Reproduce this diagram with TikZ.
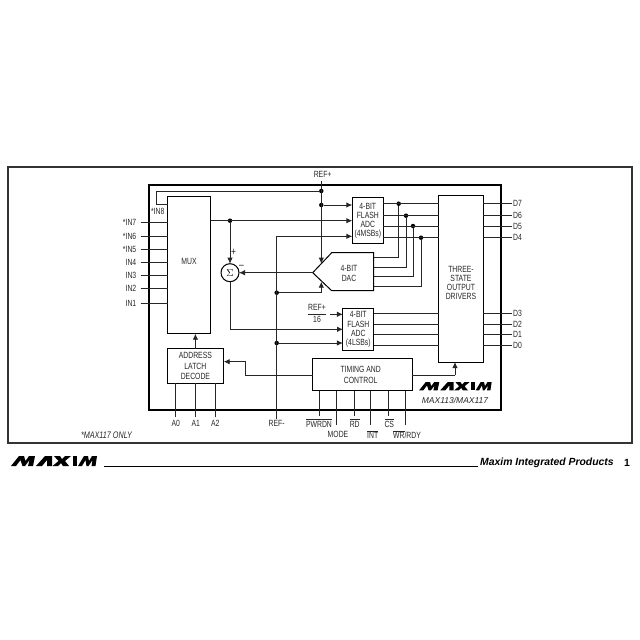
\documentclass[tikz,border=0pt]{standalone}
\usepackage{fontspec}
\setmainfont[FakeStretch=0.76]{Liberation Sans}
\newfontfamily\footfont{Liberation Sans}
\usetikzlibrary{arrows.meta}
\tikzset{
  lab/.style={font=\fontsize{9}{9.2}\selectfont,inner sep=1pt,align=center,text=black!85},
  box/.style={draw,line width=1pt,lab,outer sep=0pt},
  wire/.style={line width=0.9pt,draw=black!85},
  sig/.style={wire,-{Latex[length=6pt,width=5.5pt]}},
  dot/.style={circle,fill=black,inner sep=0pt,minimum size=4.5pt},
  maximlogo/.pic={
    \fill (0,10) -- (8,0) -- (13,0) -- (14.5,5) -- (18,0) -- (24,0) -- (22,10) -- (17,10) -- (18.5,4) -- (14,10) -- (11.5,10) -- (9.5,4) -- (5,10) -- cycle;
    \fill (25,10) -- (34,0) -- (41,0) -- (41,10) -- (36,10) -- (36,4) -- (31,10) -- cycle;
    \fill (43,0) -- (49,0) -- (51,3) -- (54,0) -- (60,0) -- (54,5) -- (58,10) -- (52,10) -- (50,7) -- (47,10) -- (41.5,10) -- (47.5,5) -- cycle;
    \fill (61.5,0) -- (66,0) -- (66,10) -- (61.5,10) -- cycle;
    \fill (67,10) -- (73,0) -- (77,0) -- (78,5) -- (81,0) -- (86,0) -- (84.5,10) -- (80.5,10) -- (81.5,4) -- (77.5,10) -- (75.5,10) -- (74.5,4) -- (71,10) -- cycle;
  }
}
\begin{document}
\begin{tikzpicture}[x=1pt,y=-1pt]
  \useasboundingbox (0,0) rectangle (640,640);
  % frames
  \draw [line width=1.2pt,draw=black!80] (8,167) rectangle (632,443);
  \draw [line width=1.8pt] (148.7,185) rectangle (500.7,410);
  % blocks
  \node at (189.2,265.2) [box,minimum width=43pt,minimum height=137pt] (mux) {};
  \node at (189,261.7) [lab] (muxtext) {MUX};
  \node at (195.4,366) [box,minimum width=56.7pt,minimum height=34.6pt] (addr) {ADDRESS\\[1pt]LATCH\\[1pt]DECODE};
  \node at (367.8,220.8) [box,minimum width=31pt,minimum height=46.3pt] (adcm) {4-BIT\\FLASH\\ADC\\(4MSBs)};
  \node at (358.3,329.5) [box,minimum width=30.7pt,minimum height=41.6pt] (adcl) {4-BIT\\FLASH\\ADC\\(4LSBs)};
  \node at (461,278.5) [box,minimum width=44.6pt,minimum height=167pt] (drv) {};
  \node at (461,283) [lab] (drvtext) {THREE-\\STATE\\OUTPUT\\DRIVERS};
  \node at (362.5,374.4) [box,minimum width=99.6pt,minimum height=32.7pt] (timing) {};
  \node at (360.7,375) [lab] (timingtext) {TIMING AND\\[1.5pt]CONTROL};
  \node at (230,272.7) [circle,draw,line width=1pt,inner sep=0pt,minimum size=18pt,outer sep=0pt] (sum) {$\Sigma$};
  \draw [line width=1pt] (312.7,272.7) -- (331.7,252.7) -- (373.7,252.7) -- (373.7,290.7) -- (331.7,290.7) -- cycle;
  \coordinate (dactip) at (312.7,272.7);
  \node at (349,273.5) [lab] (dac) {4-BIT\\DAC};
  % analog inputs
  \foreach \n/\y in {*IN7/222.7,*IN6/236,*IN5/249.3,IN4/262.7,IN3/275.7,IN2/288.7,IN1/303} {
    \node at (137.5,\y) [lab,anchor=east] (pin) {\n};
    \draw [wire] ([xshift=3pt]pin.east) -- (mux.west |- pin.east);
  }
  \node at (157.7,211) [lab] (ineight) {*IN8};
  % reference wires
  \node at (322.6,174) [lab,inner sep=2.5pt] (refp) {REF+};
  \coordinate (refptop) at (321.3,181);
  \coordinate (dacup) at (321.3,263.6);
  \coordinate (daclow) at (321.3,281.7);
  \coordinate (inturn) at (156.7,204);
  \node at (321.3,191) [dot] (dotin) {};
  \node at (321.3,205) [dot] (dotadc) {};
  \draw [sig] (refptop) -- (dacup);
  \draw [wire] (dotin) -| (inturn) -- (mux.west |- inturn);
  \draw [sig] (dotadc) -- (adcm.west |- dotadc);
  % residue path
  \coordinate (muxout) at (210.7,220.7);
  \node at (230,220.7) [dot] (dotmux) {};
  \draw [sig] (muxout) -- (adcm.west |- muxout);
  \draw [sig] (dotmux) -- (sum.north);
  \node at (233.5,252.5) [lab,font=\fontsize{11}{11}\selectfont] (plus) {+};
  \node at (241.5,266.5) [lab,font=\fontsize{11}{11}\selectfont] (minus) {--};
  \draw [sig] (dactip) -- (sum.east);
  \coordinate (adcin) at (343,329.3);
  \draw [sig] (sum.south) |- (adcin);
  % REF- wires
  \node at (276.7,423) [lab] (refm) {REF-};
  \coordinate (refmtop) at (276.7,236.3);
  \coordinate (refmend) at (276.7,419);
  \node at (276.7,292.7) [dot] (dotdac) {};
  \node at (276.7,343) [dot] (dotlsb) {};
  \draw [wire] (refmtop) -- (refmend);
  \draw [sig] (refmtop) -- (adcm.west |- refmtop);
  \draw [sig] (dotdac) -| (daclow);
  \draw [sig] (dotlsb) -- (adcl.west |- dotlsb);
  \node at (317,313.5) [lab] (reffrac) {$\displaystyle\frac{\mbox{REF+}}{\mbox{16}}$};
  \draw [sig] (330,314.3) -- (adcl.west |- 0,314.3);
  % MSB outputs, with feedback to the DAC
  \foreach \n/\y/\x/\d/\lab in {7/203.7/398.7/257.7/D7,6/215.7/406/267.3/D6,5/226/413/276.7/D5,4/237.7/421/286/D4} {
    \coordinate (mo) at (383.3,\y);
    \node at (\x,\y) [dot] (dotout) {};
    \coordinate (di) at (373.7,\d);
    \node at (512,\y) [lab,anchor=west] (out) {\lab};
    \draw [wire] (mo) -- (drv.west |- mo);
    \draw [wire] (di) -| (dotout);
    \draw [wire] (drv.east |- mo) -- (out.west);
  }
  % LSB outputs
  \foreach \y/\lab in {313.7/D3,324/D2,334.7/D1,345/D0} {
    \coordinate (lo) at (373.7,\y);
    \node at (512,\y) [lab,anchor=west] (out) {\lab};
    \draw [wire] (lo) -- (drv.west |- lo);
    \draw [wire] (drv.east |- lo) -- (out.west);
  }
  % control
  \draw [sig] (addr.north) -- (mux.south -| addr.north);
  \coordinate (tdrv) at (455,375.3);
  \draw [wire] (timing.east |- tdrv) -- (tdrv);
  \draw [sig] (tdrv) -- (455,362);
  \coordinate (taddr) at (245,375.3);
  \draw [wire] (timing.west |- taddr) -- (taddr);
  \draw [sig] (taddr) |- (223.7,361.7);
  \foreach \x/\lab in {175.7/A0,195.7/A1,215.3/A2} {
    \node at (\x,423) [lab,inner sep=2.5pt] (adr) {\lab};
    \draw [wire] (addr.south -| adr.south) -- (adr.south |- 0,416.7);
  }
  \foreach \x/\tx/\y/\e/\lab in {319.3/319/423/416/{$\overline{\mbox{PWRDN}}$},336.7/338/434.5/425/MODE,354/354.7/423/416/{$\overline{\mbox{RD}}$},370.7/372.7/434.5/425/{$\overline{\mbox{INT}}$},388.7/389.3/423/416/{$\overline{\mbox{CS}}$},405.7/407/434.5/425/{$\overline{\mbox{WR}}$/RDY}} {
    \node at (\tx,\y) [lab] (ctl) {\lab};
    \draw [wire] (\x,390.7) -- (\x,\e);
  }
  % logos and captions
  \pic [scale=0.845] at (419,382) {maximlogo};
  \node at (455,400) [lab] (part) {\footfont\fontsize{8.5}{10}\selectfont\itshape MAX113/MAX117};
  \node at (106.5,435) [lab,font=\fontsize{9.5}{10}\selectfont] (note) {\itshape *MAX117 ONLY};
  \pic at (11,456) {maximlogo};
  \draw [line width=1pt] (104,466.7) -- (478,466.7);
  \node at (480,462.5) [anchor=west,inner sep=0pt] (maker) {\footfont\fontsize{10.4}{11}\selectfont\bfseries\itshape Maxim Integrated Products};
  \node at (627,462.5) [inner sep=0pt] (page) {\footfont\fontsize{10.4}{11}\selectfont\bfseries 1};
\end{tikzpicture}
\end{document}
